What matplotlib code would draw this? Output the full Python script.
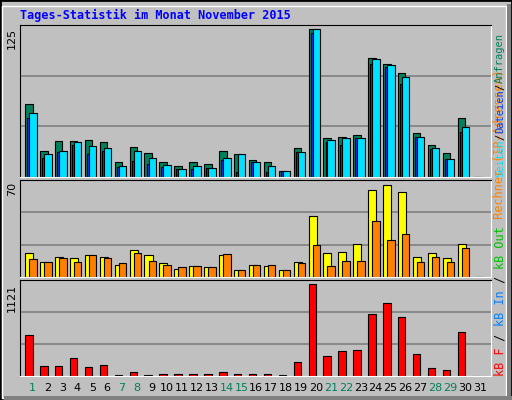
import numpy as np
import matplotlib
matplotlib.use("Agg")
import matplotlib.pyplot as plt
from matplotlib.patches import Rectangle

# Daily values, November 2015 (day 31 does not exist -> 0)
days = np.arange(1, 32)
hits = [60.6, 21.7, 30, 30, 30.8, 29, 12.5, 25, 20, 12.5, 9, 12.5, 11, 21.7, 19,
        14, 12.5, 5, 24, 122.5, 32.5, 33, 35, 99, 94, 86, 36.7, 26.7, 20, 49, 0]
files = [48.6, 16, 21, 26.7, 19, 21.7, 8, 13, 11, 8, 6.7, 6.7, 7.5, 14, 4,
         12.5, 4, 5, 21, 119, 29, 26.7, 32, 94, 91, 77.5, 33, 23, 15, 37.5, 0]
pages = [53, 19, 21.7, 29, 26, 24, 9, 21.7, 16, 10, 6.7, 9, 7.5, 16, 19,
         12.5, 9, 5, 21, 122.5, 31, 32, 32.5, 97.5, 92.5, 82.5, 33, 24, 15, 41.7, 0]
visits = [17.7, 11, 15, 14, 16.3, 15, 8.9, 20, 16.3, 10.4, 5.9, 8.1, 7.4, 16.3, 5.2,
          8.9, 8.1, 5.2, 11, 45, 17.7, 18.5, 24.4, 64, 68, 63, 14.8, 17.7, 14, 24.4, 0]
sites = [13.3, 11, 14, 11, 16.3, 14, 10.4, 17.7, 11.8, 8.9, 7.4, 8.1, 7.4, 17, 5.2,
         8.9, 8.9, 5.2, 10.4, 23.7, 8.1, 11.8, 11.8, 41.4, 27.4, 31.8, 11, 14.8, 11, 21.4, 0]
kbytes = [507, 127, 127, 225, 115, 139, 16, 53, 16, 29, 29, 29, 29, 53, 29,
          29, 29, 16, 176, 1121, 250, 311, 323, 753, 888, 716, 274, 102, 78, 544, 0]
weekend = [1, 7, 8, 14, 15, 21, 22, 28, 29]

W, H = 512, 400
fig = plt.figure(figsize=(W / 100, H / 100), dpi=100)
fig.patch.set_facecolor("#c0c0c0")
# outer frame
fig.add_artist(Rectangle((0, 0), 1, 1, transform=fig.transFigure, fill=False,
                         edgecolor="black", linewidth=2))
fig.add_artist(Rectangle((2 / W, 2 / H), 1 - 8 / W, 1 - 8 / H, transform=fig.transFigure,
                         fill=False, edgecolor="white", linewidth=1))
fig.add_artist(Rectangle((4 / W, 0), 1 - 4 / W, 4 / H, transform=fig.transFigure,
                         facecolor="#808080", edgecolor="none"))
fig.add_artist(Rectangle((1 - 5 / W, 0), 4 / W, 1 - 4 / H, transform=fig.transFigure,
                         facecolor="#808080", edgecolor="none"))


def panel(top, bottom):
    ax = fig.add_axes([20 / W, (H - bottom) / H, 471 / W, (bottom - top) / H])
    ax.set_facecolor("#c0c0c0")
    ax.set_xlim(0.15, 31.74)
    ax.set_xticks([])
    ax.set_yticks([])
    for s in ax.spines.values():
        s.set_color("black")
    ax.spines["bottom"].set_color("white")
    ax.spines["right"].set_color("white")
    return ax


def gridlines(ax, top):
    for g in (top / 3, 2 * top / 3):
        ax.axhline(g, color="#808080", linewidth=1.2, zorder=0)


kw = dict(align="edge", edgecolor="black", linewidth=0.8)

ax1 = panel(25, 177)
ax1.set_ylim(0, 126)
gridlines(ax1, 126)
ax1.bar(days - 0.5, hits, width=0.5, color="#00805c", **kw)
ax1.bar(days - 0.36, files, width=0.13, color="#0040ff", **kw)
ax1.bar(days - 0.23, pages, width=0.5, color="#00e0ff", **kw)

ax2 = panel(180, 277)
ax2.set_ylim(0, 71.7)
gridlines(ax2, 71.7)
ax2.bar(days - 0.5, visits, width=0.54, color="#ffff00", **kw)
ax2.bar(days - 0.23, sites, width=0.5, color="#ff8000", **kw)

ax3 = panel(280, 376)
ax3.set_ylim(0, 1174)
gridlines(ax3, 1174)
ax3.bar(days - 0.5, kbytes, width=0.5, color="#ff0000", **kw)

for d in days:
    ax3.text(d, -0.13, str(d), transform=ax3.get_xaxis_transform(), ha="center", va="center",
             fontsize=8, color="#00805c" if d in weekend else "black")

fig.text(20 / W, 1 - 15 / H, "Tages-Statistik im Monat November 2015", color="#0000ff",
         fontsize=8.5, fontweight="bold", family="DejaVu Sans Mono", va="center")
for txt, y in (("125", 28), ("70", 182), ("1121", 284)):
    fig.text(12 / W, 1 - y / H, txt, rotation=90, fontsize=8, ha="center", va="top")

# rotated colour legends on the right
renderer = fig.canvas.get_renderer()


def vlegend(parts, y_start, size, upward=True):
    y = y_start
    for txt, col in parts:
        t = fig.text(500 / W, y, txt, rotation=90, color=col, fontsize=size,
                     family="DejaVu Sans Mono", ha="center", va="bottom" if upward else "top")
        h = t.get_window_extent(renderer).height / H
        y = y + h if upward else y - h


vlegend([("kB F", "#ff0000"), (" / ", "black"), ("kB In", "#0080ff"), (" / ", "black"),
         ("kB Out", "#00c000"), (" Rechner (IP-Adressen)", "#ff8000")], 24 / H, 8.5)
vlegend([("Anfragen", "#00805c"), ("/", "black"), ("Dateien", "#0040ff"), ("/", "black"),
         ("Seiten", "#00e0ff")][::-1], 1 - 177 / H, 7.5)

fig.savefig("out.png", dpi=100, facecolor=fig.get_facecolor())
